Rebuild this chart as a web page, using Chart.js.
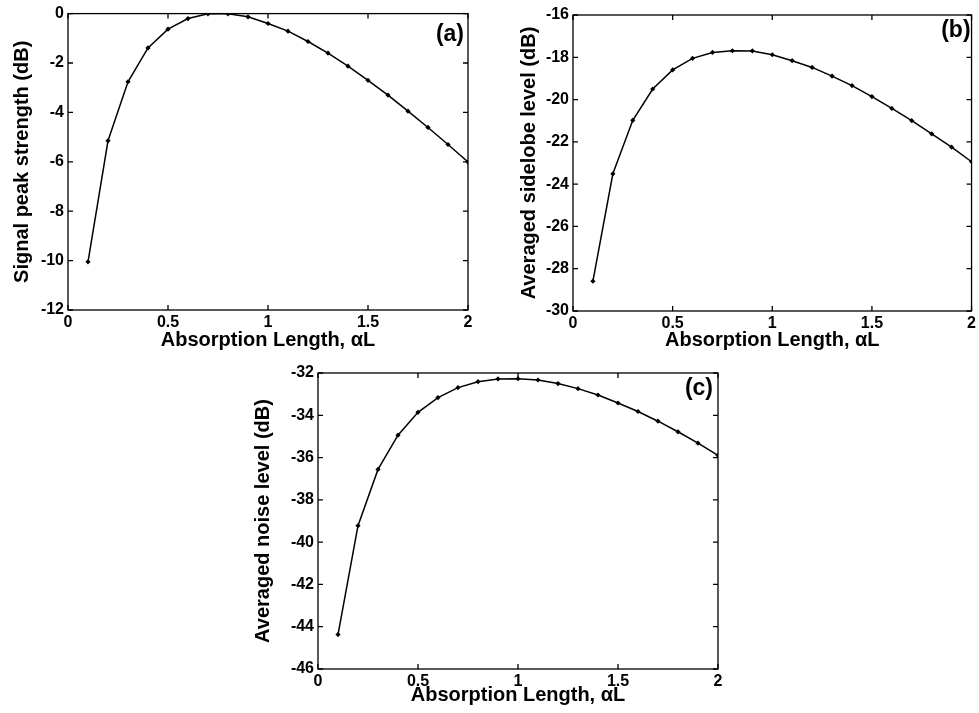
<!DOCTYPE html>
<html>
<head>
<meta charset="utf-8">
<script src="https://cdn.jsdelivr.net/npm/chart.js@4.4.1/dist/chart.umd.min.js"></script>
<style>
	body { margin: 0; background: #fff; }
	#wrap { position: relative; width: 979px; height: 713px; }
	.panel { position: absolute; }
</style>
</head>
<body>
<div id="wrap">
	<div class="panel" style="left:0;top:0;width:480px;height:360px"><canvas id="chart-a"></canvas></div>
	<div class="panel" style="left:490px;top:0;width:489px;height:360px"><canvas id="chart-b"></canvas></div>
	<div class="panel" style="left:240px;top:350px;width:500px;height:363px"><canvas id="chart-c"></canvas></div>
</div>
<script>
// absorption length values, shared by all three panels
const alphaL = [0.1, 0.2, 0.3, 0.4, 0.5, 0.6, 0.7, 0.8, 0.9, 1.0, 1.1, 1.2, 1.3, 1.4, 1.5, 1.6, 1.7, 1.8, 1.9, 2.0];

const peakStrength = [-10.05, -5.15, -2.76, -1.39, -0.63, -0.2, -0.01, -0.01, -0.13, -0.40,
	-0.71, -1.13, -1.60, -2.13, -2.70, -3.30, -3.95, -4.61, -5.30, -6.01];
const sidelobeLevel = [-28.59, -23.51, -20.98, -19.50, -18.60, -18.05, -17.77, -17.69, -17.70, -17.88,
	-18.16, -18.48, -18.89, -19.34, -19.86, -20.42, -21.0, -21.62, -22.25, -22.94];
const noiseLevel = [-44.37, -39.22, -36.56, -34.94, -33.86, -33.16, -32.69, -32.41, -32.28, -32.27,
	-32.33, -32.50, -32.74, -33.04, -33.42, -33.82, -34.28, -34.78, -35.32, -35.90];

const xTicks = [0, 0.5, 1, 1.5, 2];
const xLabel = 'Absorption Length, \u03b1L';

const FONT = '"Liberation Sans", Arial, sans-serif';
Chart.defaults.font.family = FONT;
Chart.defaults.color = '#000';

// MATLAB style box with inward ticks + panel letter
const boxPlugin = {
	id: 'box',
	afterDraw: function (chart, args, opts) {
		const ctx = chart.ctx, a = chart.chartArea;
		const xs = chart.scales.x, ys = chart.scales.y;
		ctx.save();
		ctx.strokeStyle = '#000';
		ctx.lineWidth = 1.3;
		ctx.strokeRect(a.left, a.top, a.right - a.left, a.bottom - a.top);
		ctx.beginPath();
		xs.ticks.forEach(function (t) {
			const px = xs.getPixelForValue(t.value);
			ctx.moveTo(px, a.bottom); ctx.lineTo(px, a.bottom - 5);
			ctx.moveTo(px, a.top); ctx.lineTo(px, a.top + 5);
		});
		ys.ticks.forEach(function (t) {
			const py = ys.getPixelForValue(t.value);
			ctx.moveTo(a.left, py); ctx.lineTo(a.left + 5, py);
			ctx.moveTo(a.right, py); ctx.lineTo(a.right - 5, py);
		});
		ctx.stroke();
		ctx.font = 'bold 23px ' + FONT;
		ctx.fillStyle = '#000';
		ctx.textAlign = 'right';
		ctx.textBaseline = 'middle';
		ctx.fillText(opts.letter, a.right + opts.dx, a.top + opts.dy);
		ctx.restore();
	}
};

function makePanel(id, values, yMin, yMax, yTitle, lay) {
	const pts = alphaL.map(function (x, i) { return { x: x, y: values[i] }; });
	return new Chart(document.getElementById(id), {
		type: 'line',
		data: {
			datasets: [{
				data: pts,
				borderColor: '#000',
				backgroundColor: '#000',
				borderWidth: 1.5,
				pointStyle: 'rectRot',
				pointRadius: 2.6,
				pointBorderWidth: 0,
				tension: 0,
				fill: false
			}]
		},
		plugins: [boxPlugin],
		options: {
			responsive: true,
			maintainAspectRatio: false,
			animation: false,
			layout: { padding: { left: 0, top: lay.top, right: lay.right, bottom: 0 } },
			plugins: {
				legend: { display: false },
				tooltip: { enabled: false },
				box: { letter: lay.letter, dx: lay.ldx, dy: lay.ldy }
			},
			scales: {
				x: {
					type: 'linear',
					min: 0,
					max: 2,
					afterBuildTicks: function (s) { s.ticks = xTicks.map(function (v) { return { value: v }; }); },
					afterFit: function (s) { s.height = lay.xh; },
					grid: { display: false, drawTicks: false },
					border: { display: false },
					ticks: {
						padding: 3,
						maxRotation: 0,
						font: { size: 16, weight: 'bold' },
						callback: function (v) { return String(v); }
					},
					title: { display: true, text: xLabel, font: { size: 20, weight: 'bold' }, padding: { top: 0, bottom: lay.xtb } }
				},
				y: {
					min: yMin,
					max: yMax,
					ticks: { stepSize: 2, padding: 4, font: { size: 16, weight: 'bold' } },
					afterFit: function (s) { s.width = lay.yw; },
					grid: { display: false, drawTicks: false },
					border: { display: false },
					title: { display: true, text: yTitle, font: { size: 20, weight: 'bold' }, padding: { top: lay.ytp, bottom: 0 } }
				}
			}
		}
	});
}

makePanel('chart-a', peakStrength, -12, 0, 'Signal peak strength (dB)',
	{ top: 13, right: 12, yw: 68, xh: 50, xtb: 8, ytp: 10, letter: '(a)', ldx: -4, ldy: 21 });
makePanel('chart-b', sidelobeLevel, -30, -16, 'Averaged sidelobe level (dB)',
	{ top: 15, right: 6, yw: 83, xh: 49, xtb: 8, ytp: 27, letter: '(b)', ldx: -1, ldy: 16 });
makePanel('chart-c', noiseLevel, -46, -32, 'Averaged noise level (dB)',
	{ top: 23, right: 22, yw: 78, xh: 44, xtb: 6, ytp: 11, letter: '(c)', ldx: -5, ldy: 16 });
</script>
</body>
</html>
